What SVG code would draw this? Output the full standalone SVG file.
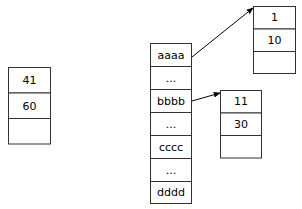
<svg xmlns="http://www.w3.org/2000/svg" width="302" height="209" viewBox="0 0 302 209">
<style>
.c{fill:#fff;stroke:#333;stroke-width:1}
.t{font-family:"DejaVu Sans",sans-serif;font-size:11px;fill:#000;text-anchor:middle;dominant-baseline:central}
.e{stroke:#000;stroke-width:1;fill:none;marker-end:url(#a)}
</style>
<defs>
<marker id="a" viewBox="0 0 10 10" refX="9" refY="5" markerWidth="7" markerHeight="7" orient="auto" markerUnits="userSpaceOnUse">
<path d="M0,1 L10,5 L0,9 Z" fill="#000"/>
</marker>
</defs>
<rect width="302" height="209" fill="#fff"/>
<g id="left">
<rect class="c" x="8.5" y="67.5" width="42" height="25.5"/>
<rect class="c" x="8.5" y="93" width="42" height="25.5"/>
<rect class="c" x="8.5" y="118.5" width="42" height="25.5"/>
<text class="t" x="29.5" y="80">41</text>
<text class="t" x="29.5" y="106">60</text>
</g>
<g id="middle">
<rect class="c" x="150.5" y="43.5" width="41" height="23"/>
<rect class="c" x="150.5" y="66.5" width="41" height="23"/>
<rect class="c" x="150.5" y="89.5" width="41" height="23"/>
<rect class="c" x="150.5" y="112.5" width="41" height="23"/>
<rect class="c" x="150.5" y="135.5" width="41" height="23"/>
<rect class="c" x="150.5" y="158.5" width="41" height="23"/>
<rect class="c" x="150.5" y="181.5" width="41" height="22"/>
<text class="t" x="171" y="55">aaaa</text>
<text class="t" x="171" y="78">...</text>
<text class="t" x="171" y="101">bbbb</text>
<text class="t" x="171" y="124">...</text>
<text class="t" x="171" y="147">cccc</text>
<text class="t" x="171" y="170">...</text>
<text class="t" x="171" y="192.5">dddd</text>
</g>
<g id="top-right">
<rect class="c" x="253.5" y="6.5" width="42" height="22.5"/>
<rect class="c" x="253.5" y="29" width="42" height="22.5"/>
<rect class="c" x="253.5" y="51.5" width="42" height="22"/>
<text class="t" x="274.5" y="17.5">1</text>
<text class="t" x="274.5" y="40">10</text>
</g>
<g id="mid-right">
<rect class="c" x="220.5" y="90.5" width="41" height="22.5"/>
<rect class="c" x="220.5" y="113" width="41" height="22.5"/>
<rect class="c" x="220.5" y="135.5" width="41" height="22.5"/>
<text class="t" x="241" y="101.5">11</text>
<text class="t" x="241" y="124">30</text>
</g>
<g id="connectors">
<line class="e" x1="192" y1="57" x2="253" y2="8"/>
<line class="e" x1="192" y1="101" x2="220" y2="93"/>
</g>
</svg>
